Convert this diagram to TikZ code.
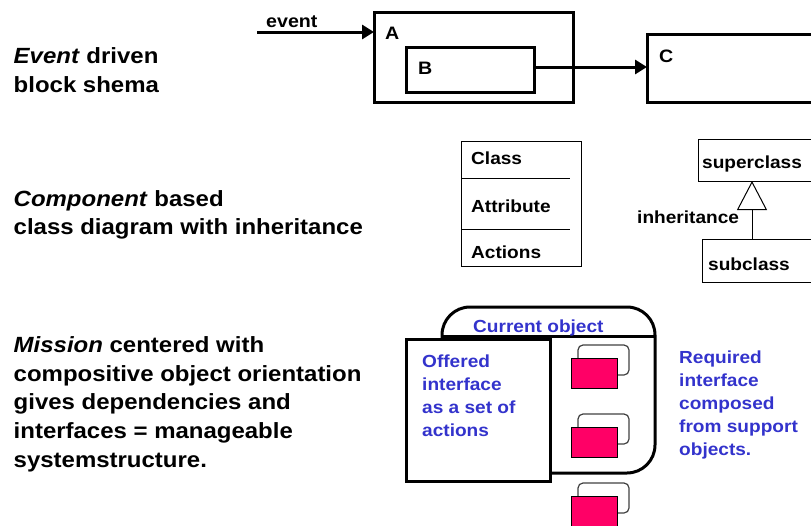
\documentclass[tikz,border=0pt]{standalone}
\usepackage{fontspec}
\setmainfont{Liberation Sans}[FakeStretch=1.09]
\usetikzlibrary{arrows.meta}
\definecolor{myblue}{RGB}{51,51,204}
\definecolor{myred}{RGB}{255,0,102}
\definecolor{mygray}{RGB}{64,64,64}
\tikzset{
  heavybox/.style={draw, line width=3pt, inner sep=0pt, outer sep=0pt},
  lightbox/.style={draw, line width=1pt, inner sep=0pt, outer sep=0pt},
  heavyarrow/.style={line width=3pt, -{Triangle[length=12pt,width=14pt]}},
  ttl/.style={font=\fontsize{22}{28}\selectfont\bfseries, anchor=base west, inner sep=0pt},
  lab/.style={font=\fontsize{18}{22}\selectfont\bfseries, anchor=base west, inner sep=0pt},
  cls/.style={font=\fontsize{17.5}{21}\selectfont\bfseries, anchor=base west, inner sep=0pt},
  blu/.style={cls, text=myblue},
  backbox/.style={draw=mygray, line width=1.2pt, rounded corners=5pt, minimum width=51pt, minimum height=30pt, inner sep=0pt},
  redbox/.style={draw=black, line width=0.8pt, fill=myred, minimum width=46pt, minimum height=30pt, inner sep=0pt}
}
\begin{document}
\begin{tikzpicture}[x=1pt,y=-1pt]
\useasboundingbox (0,0) rectangle (811,525);
\clip (0,0) rectangle (811,525);

% ---- left titles
\node[ttl] (t1a) at (13.5,63) {\textit{Event} driven};
\node[ttl] (t1b) at (13.5,92) {block shema};
\node[ttl] (t2a) at (13.5,206) {\textit{Component} based};
\node[ttl] (t2b) at (13.5,234) {class diagram with inheritance};
\node[ttl] (t3a) at (13.5,352) {\textit{Mission} centered with};
\node[ttl] (t3b) at (13.5,381) {compositive object orientation};
\node[ttl] (t3c) at (13.5,409) {gives dependencies and};
\node[ttl] (t3d) at (13.5,438) {interfaces = manageable};
\node[ttl] (t3e) at (13.5,467) {systemstructure.};

% ---- event driven block schema
\node[heavybox, minimum width=199pt, minimum height=90pt] (boxA) at (473.5,57) {};
\node[heavybox, minimum width=128pt, minimum height=45pt] (boxB) at (470,69.5) {};
\node[heavybox, minimum width=183pt, minimum height=68pt] (boxC) at (738.5,68) {};
\node[lab] (labA) at (385,39) {A};
\node[lab] (labB) at (418,74) {B};
\node[lab] (labC) at (659,62) {C};
\coordinate (evstart) at (257,32);
\coordinate (bcy) at (0,67);
\draw[heavyarrow] (evstart) -- (boxA.west |- evstart);
\node[lab] (evlab) at (266,27) {event};
\draw[heavyarrow] (boxB.east |- bcy) -- (boxC.west |- bcy);

% ---- class diagram
\node[lightbox, minimum width=120pt, minimum height=125pt] (classbox) at (521,203.5) {};
\coordinate (d1) at (570,178);
\coordinate (d2) at (570,229);
\draw[line width=1pt] (classbox.west |- d1) -- (d1);
\draw[line width=1pt] (classbox.west |- d2) -- (d2);
\node[cls] (cname) at (471,164) {Class};
\node[cls] (cattr) at (471,212) {Attribute};
\node[cls] (cact) at (471,258) {Actions};

\node[lightbox, minimum width=130pt, minimum height=42pt] (superclass) at (763,160) {};
\node[lightbox, minimum width=126pt, minimum height=43pt] (subclass) at (765,260.5) {};
\node[cls] (suplab) at (702,168) {superclass};
\node[cls] (sublab) at (708,270) {subclass};
\coordinate (inhx) at (752,0);
\draw[line width=1pt, -{Triangle[open,length=29pt,width=30pt,fill=white]}]
  (subclass.north -| inhx) -- (superclass.south -| inhx);
\node[cls] (inhlab) at (637,223) {inheritance};

% ---- mission centered object
\draw[line width=3pt, rounded corners=28pt]
  (540,473) -- (655,473) -- (655,307) -- (442,307) -- (442,350);
\draw[line width=3pt] (442,336) -- (655,336);
\node[blu] (curobj) at (473,332) {Current object};
\node[heavybox, fill=white, minimum width=144pt, minimum height=142pt] (offered) at (478,410) {};
\node[blu] (of1) at (422,367) {Offered};
\node[blu] (of2) at (422,390) {interface};
\node[blu] (of3) at (422,413) {as a set of};
\node[blu] (of4) at (422,436) {actions};

\foreach \i/\yy in {1/373,2/442,3/511}{
  \node[backbox] (back\i) at (603.5,\yy-13) {};
  \node[redbox] (red\i) at (594,\yy) {};
}

\node[blu] (rq1) at (679,363) {Required};
\node[blu] (rq2) at (679,386) {interface};
\node[blu] (rq3) at (679,409) {composed};
\node[blu] (rq4) at (679,432) {from support};
\node[blu] (rq5) at (679,455) {objects.};
\end{tikzpicture}
\end{document}
